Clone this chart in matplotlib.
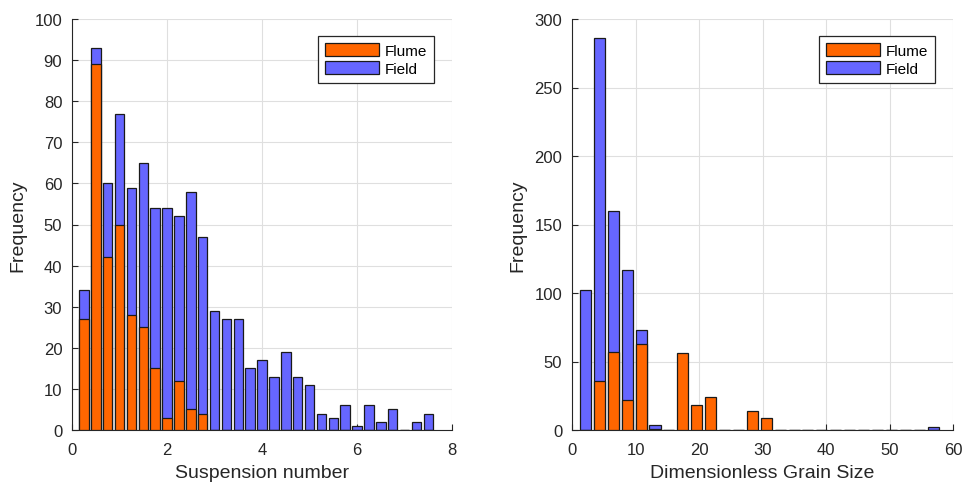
# Histograms of suspension number and dimensionless grain size (flume vs field)
import numpy as np
import matplotlib
matplotlib.use('Agg')
import matplotlib.pyplot as plt

plt.rcParams['font.family'] = ['Liberation Sans', 'DejaVu Sans']

# left panel: suspension number bins (centres) and counts
susp_bins = [0.25, 0.5, 0.75, 1.0, 1.25, 1.5, 1.75, 2.0, 2.25, 2.5,
             2.75, 3.0, 3.25, 3.5, 3.75, 4.0, 4.25, 4.5, 4.75, 5.0,
             5.25, 5.5, 5.75, 6.0, 6.25, 6.5, 6.75, 7.0, 7.25, 7.5]
susp_field = [34, 93, 60, 77, 59, 65, 54, 54, 52, 58,
              47, 29, 27, 27, 15, 17, 13, 19, 13, 11,
              4, 3, 6, 1, 6, 2, 5, 0, 2, 4]
susp_flume = [27, 89, 42, 50, 28, 25, 15, 3, 12, 5,
              4, 0, 0, 0, 0, 0, 0, 0, 0, 0,
              0, 0, 0, 0, 0, 0, 0, 0, 0, 0]

# right panel: dimensionless grain size bins (centres) and counts
grain_bins = [2.1, 4.3, 6.5, 8.7, 10.9, 13.1, 15.2, 17.4, 19.6, 21.8,
              24.0, 26.2, 28.4, 30.6, 32.8, 35.0, 37.1, 39.3, 41.5, 43.7,
              45.9, 48.1, 50.3, 52.5, 54.7, 56.9]
grain_field = [102, 286, 160, 117, 73, 4, 0, 0, 0, 0,
               0, 0, 0, 0, 0, 0, 0, 0, 0, 0,
               0, 0, 0, 0, 0, 2]
grain_flume = [0, 36, 57, 22, 63, 1, 0, 56, 18, 24,
               0, 0, 14, 9, 0, 0, 0, 0, 0, 0,
               0, 0, 0, 0, 0, 0]

orange = '#ff6600'
blue = '#6666ff'


def draw_panel(ax, bins, field, flume, width, xlim, xticks, ylim, yticks, xlabel):
    bins = np.array(bins)
    h_field = ax.bar(bins, field, width=width, color=blue, edgecolor='#1a1a1a',
                     linewidth=0.9, label='Field', zorder=2)
    h_flume = ax.bar(bins, flume, width=width, color=orange, edgecolor='#1a1a1a',
                     linewidth=0.9, label='Flume', zorder=3)
    ax.set_xlim(*xlim)
    ax.set_ylim(*ylim)
    ax.set_xticks(xticks)
    ax.set_yticks(yticks)
    ax.grid(True, color='#dfdfdf', linewidth=0.8, zorder=0)
    ax.set_axisbelow(True)
    for s in ['top', 'right']:
        ax.spines[s].set_visible(False)
    for s in ['left', 'bottom']:
        ax.spines[s].set_color('#262626')
        ax.spines[s].set_linewidth(0.8)
    ax.tick_params(direction='in', length=4, labelsize=12, colors='#262626',
                   labelcolor='#262626')
    ax.tick_params(axis='x', pad=9)
    ax.tick_params(axis='y', pad=7)
    ax.set_xlabel(xlabel, fontsize=14, color='#262626', labelpad=5)
    ax.set_ylabel('Frequency', fontsize=14, color='#262626', labelpad=6)
    leg = ax.legend([h_flume, h_field], ['Flume', 'Field'], loc='upper right',
                    bbox_to_anchor=(0.953, 0.958), fancybox=False, framealpha=1,
                    edgecolor='#262626', fontsize=11, handlelength=3.5,
                    handleheight=0.95, borderpad=0.45, labelspacing=0.2,
                    handletextpad=0.4, borderaxespad=0)
    leg.get_frame().set_linewidth(0.9)


fig = plt.figure(figsize=(9.64, 4.85), dpi=100)
ax1 = fig.add_axes([72 / 964, 1 - 431 / 485, 380 / 964, 411 / 485])
ax2 = fig.add_axes([572 / 964, 1 - 431 / 485, 381 / 964, 411 / 485])

draw_panel(ax1, susp_bins, susp_field, susp_flume, 0.2, (0, 8),
           [0, 2, 4, 6, 8], (0, 100), np.arange(0, 101, 10), 'Suspension number')
draw_panel(ax2, grain_bins, grain_field, grain_flume, 1.8, (0, 60),
           [0, 10, 20, 30, 40, 50, 60], (0, 300), np.arange(0, 301, 50),
           'Dimensionless Grain Size')

plt.savefig('out.png', dpi=100)
